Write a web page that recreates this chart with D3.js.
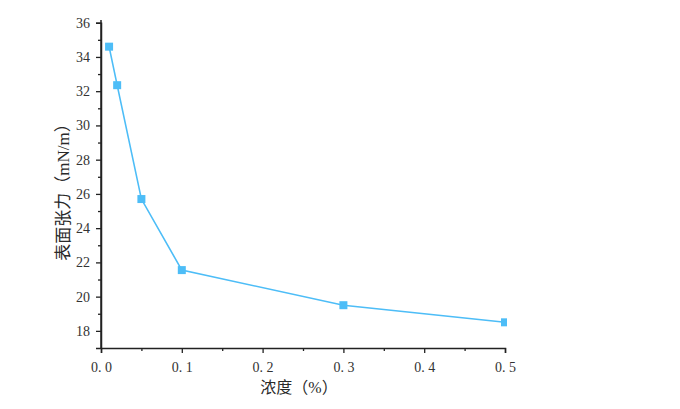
<!DOCTYPE html>
<html><head><meta charset="utf-8">
<script src="https://cdn.jsdelivr.net/npm/d3@7"></script>
<style>body{margin:0;background:#fff}</style></head>
<body><svg id="c" width="680" height="409"></svg>
<script>
const concentrations = [0.01, 0.02, 0.05, 0.1, 0.3, 0.5];
const tension = [34.6, 32.35, 25.7, 21.55, 19.5, 18.5];
const xTicks = [0, 0.1, 0.2, 0.3, 0.4, 0.5];
const yTicks = [18, 20, 22, 24, 26, 28, 30, 32, 34, 36];
const xTitle = "浓度（%）";
const yTitle = "表面张力（mN/m）";

const svg = d3.select("#c");
const x = d3.scaleLinear().domain([0, 0.5]).range([101, 505]);
const y = d3.scaleLinear().domain([17, 36]).range([348, 22.7]);
const col = "#4DBDF7";
const numFont = "'Liberation Serif','DejaVu Serif',serif";
const titleFont = "'Liberation Serif','Noto Sans CJK SC',serif";

const xa = svg.append("g").attr("transform", "translate(0,348)")
  .call(d3.axisBottom(x).tickValues(xTicks).tickFormat(d3.format(".1f")).tickSizeOuter(0).tickSize(5));
const xm = svg.append("g").attr("transform", "translate(0,348)")
  .call(d3.axisBottom(x).tickValues([0.05,0.15,0.25,0.35,0.45]).tickFormat("").tickSizeOuter(0).tickSize(3));
const ya = svg.append("g").attr("transform", "translate(101,0)")
  .call(d3.axisLeft(y).tickValues(yTicks).tickSizeOuter(0).tickSize(5));
const ym = svg.append("g").attr("transform", "translate(101,0)")
  .call(d3.axisLeft(y).tickValues(d3.range(18,36,2).map(v=>v+1)).tickFormat("").tickSizeOuter(0).tickSize(3));
[xa, xm, ya, ym].forEach(g => {
  g.selectAll("path.domain").attr("stroke", "#222").attr("stroke-width", 1.5);
  g.selectAll(".tick line").attr("stroke", "#222").attr("stroke-width", 1.3);
  g.selectAll("text").attr("font-family", numFont).attr("font-size", 14).attr("fill", "#333");
});
xa.selectAll("text").attr("y", 11).attr("dy", "0.95em").text(d => d3.format(".1f")(d).replace(".", ". "));
xm.select("path.domain").remove();
ym.select("path.domain").remove();
ya.selectAll("text").attr("x", -11);
svg.append("line").attr("x1",101).attr("x2",101).attr("y1",20).attr("y2",349).attr("stroke","#222").attr("stroke-width",1.5);

svg.append("defs").append("clipPath").attr("id","clip").append("rect")
  .attr("x",95).attr("y",15).attr("width",412).attr("height",340);

const pts = concentrations.map((c,i)=>[c, tension[i]]);
const g = svg.append("g").attr("clip-path","url(#clip)");
g.append("path").datum(pts)
  .attr("d", d3.line().x(d=>x(d[0])).y(d=>y(d[1])))
  .attr("fill","none").attr("stroke",col).attr("stroke-width",1.6);
g.selectAll("rect.m").data(pts).join("rect").attr("class","m")
  .attr("x", d=>x(d[0])-4).attr("y", d=>y(d[1])-4).attr("width",8).attr("height",8).attr("fill",col);

svg.append("text").attr("x", 299).attr("y", 393).attr("text-anchor","middle")
  .attr("font-family",titleFont).attr("font-size",16).attr("fill","#2a2a2a").text(xTitle);
svg.append("text").attr("transform","translate(69,188) rotate(-90)").attr("text-anchor","middle")
  .attr("font-family",titleFont).attr("font-size",17).attr("fill","#2a2a2a").text(yTitle);
</script></body></html>
